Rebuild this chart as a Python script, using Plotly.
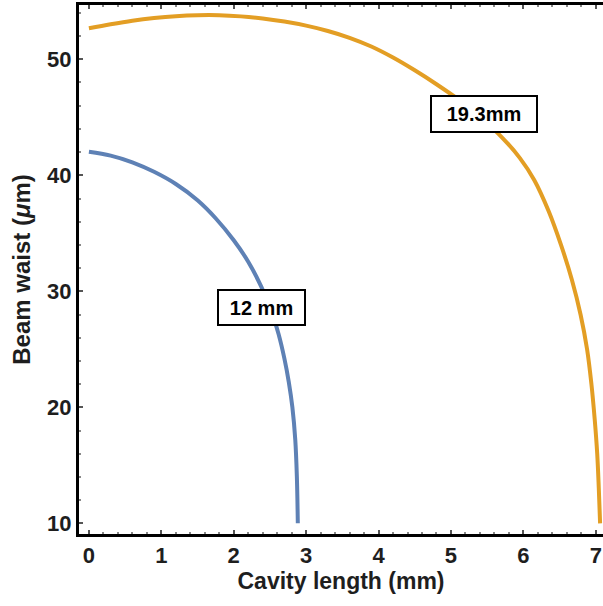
import plotly.graph_objects as go

# Beam waist vs cavity length for two mirror radii
len_12 = [0.00, 0.30, 0.60, 0.90, 1.20, 1.50, 1.75, 2.00, 2.20, 2.38, 2.52, 2.62,
          2.70, 2.76, 2.81, 2.85, 2.872, 2.885]
waist_12 = [42.03, 41.70, 41.12, 40.30, 39.25, 37.85, 36.3, 34.4, 32.55, 30.4, 28.3, 26.3,
            24.2, 22.2, 20.0, 17.2, 14.0, 10.0]

len_193 = [0.00, 0.30, 0.60, 0.90, 1.20, 1.50, 1.80, 2.10, 2.40, 2.70, 3.00, 3.30,
           3.60, 3.90, 4.20, 4.50, 4.80, 5.10, 5.40, 5.70, 5.95, 6.15, 6.35, 6.52,
           6.67, 6.79, 6.88, 6.94, 6.985, 7.02, 7.042, 7.06]
waist_193 = [52.67, 53.02, 53.33, 53.56, 53.72, 53.80, 53.80, 53.70, 53.52, 53.25, 52.90, 52.44,
             51.85, 51.10, 50.15, 49.05, 47.85, 46.55, 45.05, 43.3, 41.5, 39.6, 36.9, 34.0,
             31.0, 28.0, 25.0, 22.0, 19.0, 16.0, 13.0, 10.0]

x_ticks = [0, 1, 2, 3, 4, 5, 6, 7]
y_ticks = [10, 20, 30, 40, 50]

FONT = "Liberation Sans, Arial, sans-serif"
INK = "#1e1e1e"

fig = go.Figure()
fig.add_trace(go.Scatter(x=len_12, y=waist_12, mode="lines",
                         line=dict(color="#5E81B5", width=4, shape="spline", smoothing=1.0),
                         showlegend=False, hoverinfo="skip"))
fig.add_trace(go.Scatter(x=len_193, y=waist_193, mode="lines",
                         line=dict(color="#E39E24", width=4, shape="spline", smoothing=1.0),
                         showlegend=False, hoverinfo="skip"))

label_style = dict(showarrow=False, bgcolor="white", bordercolor="black",
                   borderwidth=2, borderpad=2, font=dict(family=FONT, size=20, color="black"))
fig.add_annotation(x=2.38, y=28.6, text="<b>12 mm</b>", width=81, height=29, **label_style)
fig.add_annotation(x=5.45, y=45.3, text="<b>19.3mm</b>", width=100, height=30, **label_style)

fig.update_layout(
    width=603, height=606,
    margin=dict(l=79, r=0, t=5, b=72),
    paper_bgcolor="white", plot_bgcolor="white",
    font=dict(family=FONT, color=INK),
)
fig.update_xaxes(
    range=[-0.137, 7.10], tickvals=x_ticks, ticktext=[f"<b>{v}</b>" for v in x_ticks],
    tickfont=dict(size=22, color=INK),
    ticks="inside", ticklen=4, tickwidth=2, tickcolor="#555",
    minor=dict(dtick=0.2, ticks="inside", ticklen=2, tickwidth=2, tickcolor="#888"),
    showline=True, linecolor="black", linewidth=3, mirror="ticks",
    showgrid=False, zeroline=False,
    title=dict(text="<b>Cavity length (mm)</b>", font=dict(size=23, color=INK), standoff=6),
)
fig.update_yaxes(
    range=[9.08, 54.68], tickvals=y_ticks, ticktext=[f"<b>{v}</b>" for v in y_ticks],
    tickfont=dict(size=22, color=INK),
    ticks="inside", ticklen=4, tickwidth=2, tickcolor="#555",
    minor=dict(dtick=2, ticks="inside", ticklen=2, tickwidth=2, tickcolor="#888"),
    showline=True, linecolor="black", linewidth=3, mirror=False,
    showgrid=False, zeroline=False,
    title=dict(text="<b>Beam waist (<i>μ</i>m)</b>", font=dict(size=24, color=INK), standoff=10),
)

fig.write_html("out.html")
